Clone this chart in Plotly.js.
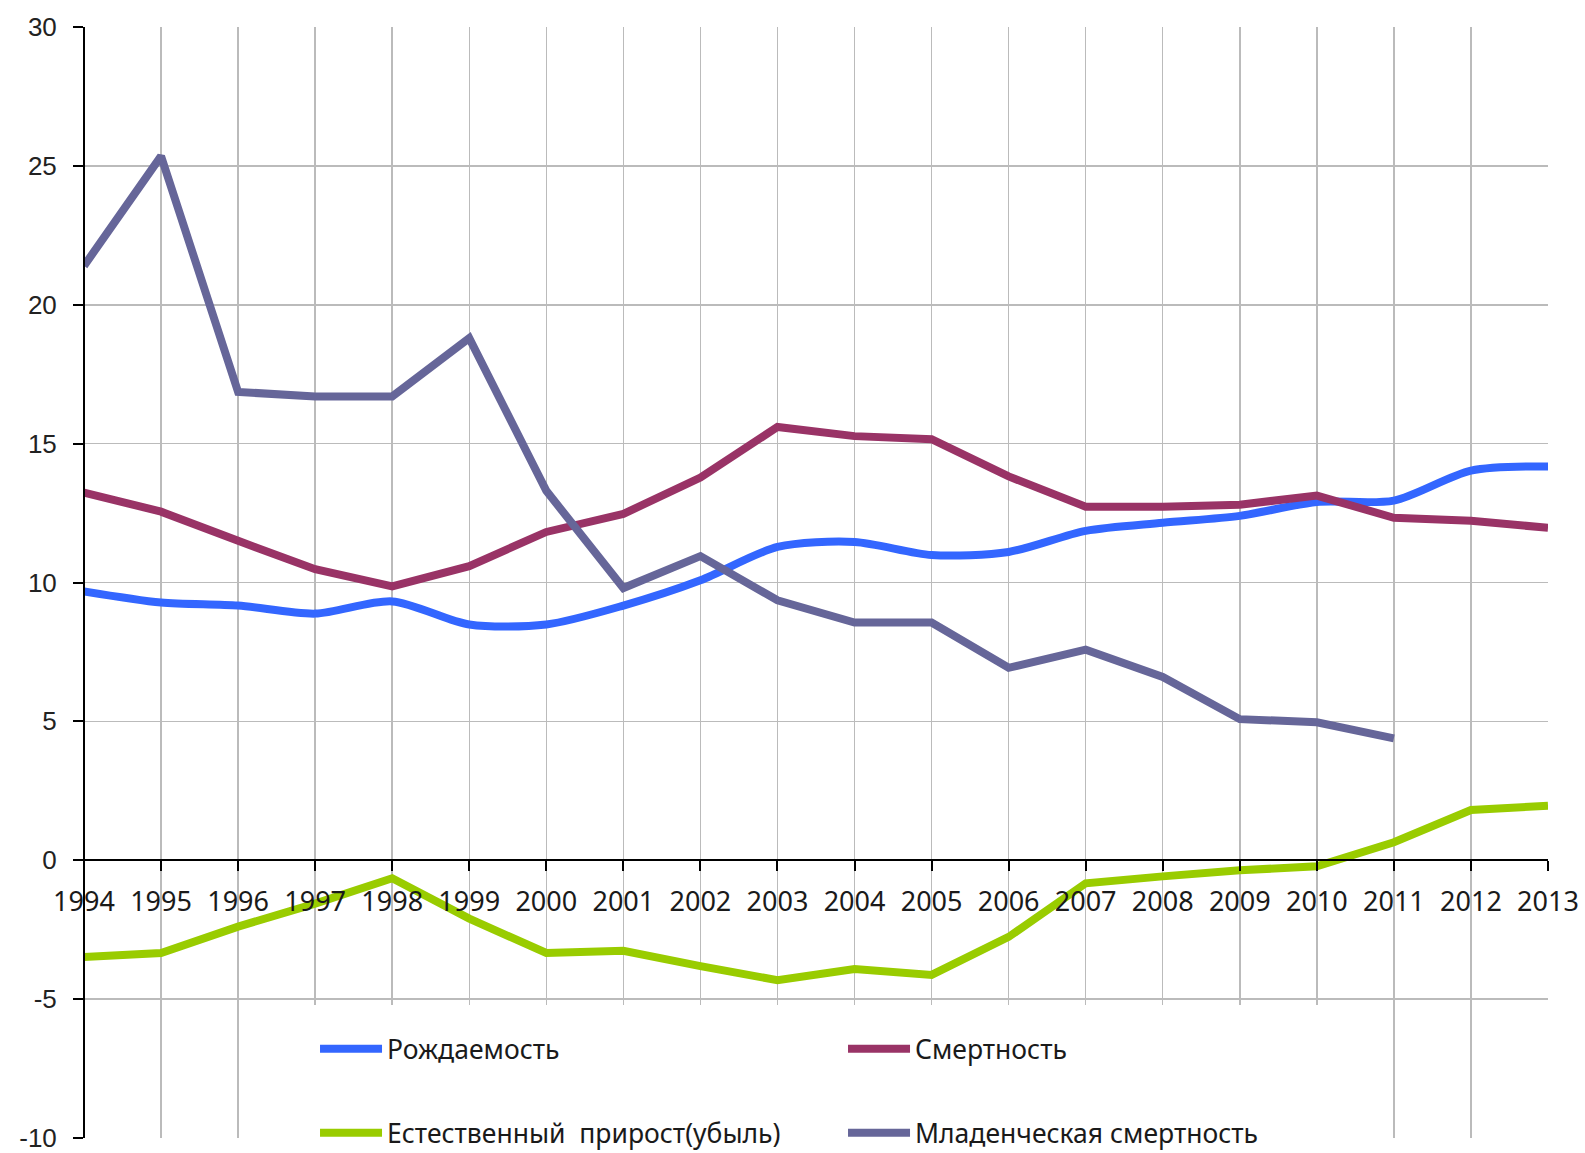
<!DOCTYPE html>
<html>
<head>
<meta charset="utf-8">
<script src="https://cdn.plot.ly/plotly-3.0.1.min.js"></script>
<style>
  html, body { margin: 0; padding: 0; background: #ffffff; }
  #chart { width: 1585px; height: 1153px; }
</style>
</head>
<body>
<div id="chart"></div>
<script>
// ---- data ----
const years = [1994, 1995, 1996, 1997, 1998, 1999, 2000, 2001, 2002, 2003,
               2004, 2005, 2006, 2007, 2008, 2009, 2010, 2011, 2012, 2013];
const yearLabels = years.map(String);

const birthName = "Рождаемость";
const birthRate = [9.68, 9.28, 9.17, 8.88, 9.32, 8.49, 8.49, 9.17, 10.08, 11.28,
                   11.46, 10.99, 11.1, 11.86, 12.15, 12.4, 12.9, 12.95, 14.03, 14.18];

const deathName = "Смертность";
const deathRate = [13.24, 12.55, 11.5, 10.48, 9.86, 10.59, 11.82, 12.47, 13.78, 15.6,
                   15.27, 15.16, 13.82, 12.73, 12.73, 12.8, 13.13, 12.33, 12.22, 11.97];

const naturalName = "Естественный  прирост(убыль)";
const naturalRate = [-3.48, -3.34, -2.39, -1.56, -0.65, -2.1, -3.34, -3.26, -3.81, -4.32,
                     -3.92, -4.13, -2.76, -0.83, -0.58, -0.36, -0.22, 0.65, 1.81, 1.96];

const infantName = "Младенческая смертность";
const infantYears = years.slice(0, 18);
const infantRate = [21.4, 25.35, 16.86, 16.7, 16.7, 18.8, 13.3, 9.8, 10.95, 9.36,
                    8.56, 8.56, 6.93, 7.58, 6.6, 5.08, 4.97, 4.39];

const yTicks = [-10, -5, 0, 5, 10, 15, 20, 25, 30];

// ---- styles ----
const LW = 8;
const gridColor = "#BBBBBB";
const legendFont = { family: "Noto Sans, DejaVu Sans, sans-serif", size: 26.5, color: "#1a1a1a" };

const traces = [
  { x: years, y: birthRate, name: birthName, type: "scatter", mode: "lines",
    line: { color: "#3366FF", width: LW, shape: "spline", smoothing: 0.8 }, legend: "legend" },
  { x: years, y: deathRate, name: deathName, type: "scatter", mode: "lines",
    line: { color: "#993366", width: LW }, legend: "legend" },
  { x: years, y: naturalRate, name: naturalName, type: "scatter", mode: "lines",
    line: { color: "#99CC00", width: LW }, legend: "legend2" },
  { x: infantYears, y: infantRate, name: infantName, type: "scatter", mode: "lines",
    line: { color: "#666699", width: LW }, legend: "legend2" }
];

const xCommon = {
  range: [1994, 2013],
  tickmode: "array",
  tickvals: years,
  anchor: "free",
  position: 0.25,
  zeroline: false,
  fixedrange: true
};

const layout = {
  width: 1585,
  height: 1153,
  margin: { l: 84, r: 37, t: 27, b: 15, pad: 0, autoexpand: false },
  paper_bgcolor: "#ffffff",
  plot_bgcolor: "#ffffff",
  showlegend: true,
  xaxis: Object.assign({}, xCommon, {
    ticktext: yearLabels,
    showline: true, linecolor: "#000000", linewidth: 2,
    ticks: "outside", ticklen: 10, tickwidth: 2, tickcolor: "#000000",
    showgrid: true, gridcolor: gridColor, gridwidth: 1.5,
    tickfont: { family: "Noto Sans, DejaVu Sans, sans-serif", size: 27, color: "#1a1a1a" },
    ticklabelstandoff: 7,
    ticklabeloverflow: "allow"
  }),
  xaxis2: Object.assign({}, xCommon, {
    overlaying: "x",
    ticktext: yearLabels,
    showline: false,
    ticks: "inside", ticklen: 10, tickwidth: 2, tickcolor: "#000000",
    showticklabels: false, showgrid: false
  }),
  yaxis: {
    range: [-10, 30],
    tickmode: "array",
    tickvals: yTicks,
    ticktext: yTicks.map(String),
    anchor: "free", position: 0,
    showline: true, linecolor: "#000000", linewidth: 2,
    ticks: "outside", ticklen: 10, tickwidth: 2, tickcolor: "#000000",
    showgrid: true, gridcolor: gridColor, gridwidth: 1.5,
    zeroline: false,
    tickfont: { family: "Liberation Sans, Arial, sans-serif", size: 26, color: "#222222" },
    ticklabelstandoff: 11,
    ticklabeloverflow: "allow",
    fixedrange: true
  },
  yaxis2: {
    range: [-10, 30],
    tickmode: "array",
    tickvals: yTicks,
    overlaying: "y",
    anchor: "free", position: 0,
    showline: false,
    ticks: "inside", ticklen: 10, tickwidth: 2, tickcolor: "#000000",
    showticklabels: false, showgrid: false, zeroline: false,
    fixedrange: true
  },
  shapes: [
    { type: "rect", xref: "paper", yref: "paper", layer: "above",
      x0: 0.139, x1: 0.861, y0: -0.03, y1: 0.1197,
      fillcolor: "#ffffff", line: { width: 0 } }
  ],
  legend: {
    orientation: "h", x: 0.1578, y: 0.080, xanchor: "left", yanchor: "middle",
    bgcolor: "rgba(0,0,0,0)", borderwidth: 0,
    itemwidth: 62, entrywidth: 451, entrywidthmode: "pixels",
    font: legendFont
  },
  legend2: {
    orientation: "h", x: 0.1578, y: 0.0045, xanchor: "left", yanchor: "middle",
    bgcolor: "rgba(0,0,0,0)", borderwidth: 0,
    itemwidth: 62, entrywidth: 451, entrywidthmode: "pixels",
    font: legendFont
  }
};

Plotly.newPlot("chart", traces, layout, { displayModeBar: false, staticPlot: true });
</script>
</body>
</html>
